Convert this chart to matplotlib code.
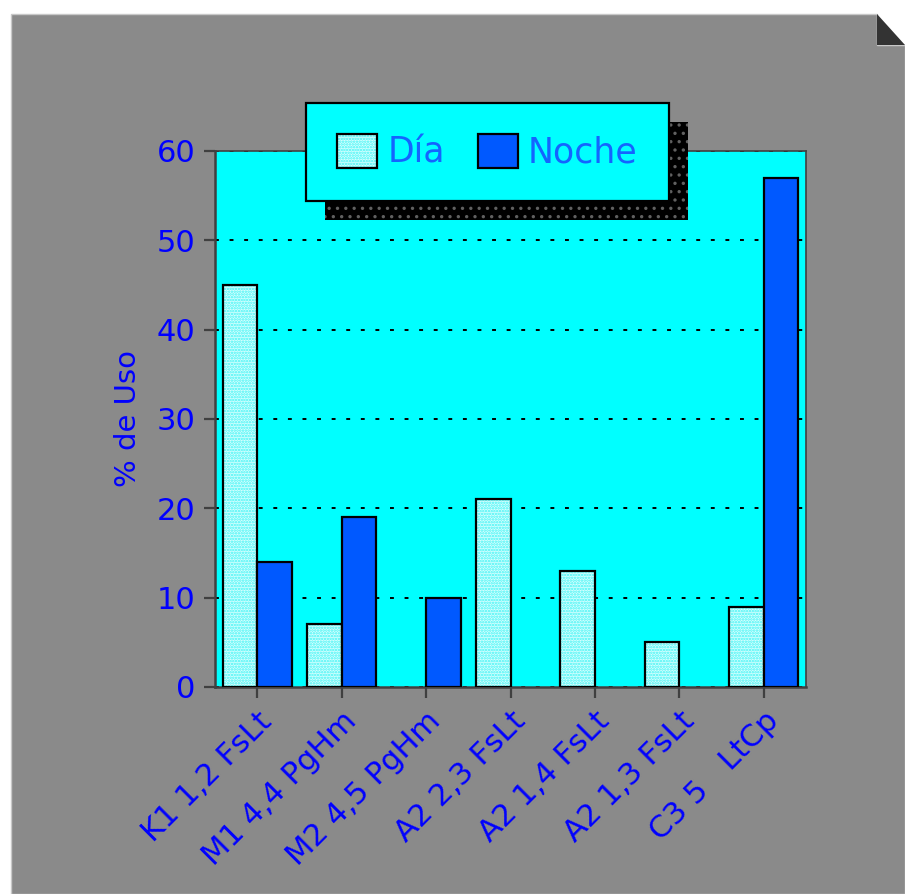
import matplotlib
matplotlib.use("Agg")
import matplotlib.pyplot as plt
import numpy as np
from matplotlib.patches import Polygon, Rectangle

categories = ["K1 1,2 FsLt", "M1 4,4 PgHm", "M2 4,5 PgHm", "A2 2,3 FsLt",
              "A2 1,4 FsLt", "A2 1,3 FsLt", "C3 5   LtCp"]
dia = [45, 7, 0, 21, 13, 5, 9]
noche = [14, 19, 10, 0, 0, 0, 57]
yticks = [0, 10, 20, 30, 40, 50, 60]
series_names = ["Día", "Noche"]
ylabel = "% de Uso"

W, H = 905, 894
DPI = 100
plt.rcParams['font.family'] = ['DejaVu Sans']
plt.rcParams['hatch.linewidth'] = 1.2
fig = plt.figure(figsize=(W / DPI, H / DPI), dpi=DPI, facecolor='white')

def px(x, y):
    return (x / W, 1 - y / H)

GRAY = '#8a8a8a'
panel = Polygon([px(11, 14), px(877, 14), px(877, 45), px(905, 45), px(905, 894), px(11, 894)],
                closed=True, transform=fig.transFigure, facecolor=GRAY,
                edgecolor='#c8c8c8', linewidth=1.0, zorder=-3)
fig.patches.append(panel)
corner = Polygon([px(877, 14), px(877, 45), px(905, 45)], closed=True,
                 transform=fig.transFigure, facecolor='#333333', edgecolor='none', zorder=-2)
fig.patches.append(corner)

L, R, T, B = 215, 806, 151, 687
ax = fig.add_axes([L / W, 1 - B / H, (R - L) / W, (B - T) / H])
ax.set_zorder(1)
ax.set_facecolor('#00ffff')

x = np.arange(len(categories))
w = 0.41
BLUE = '#0059ff'
dia_arr = np.array(dia, dtype=float)
noche_arr = np.array(noche, dtype=float)
bh = ax.bar(x - w / 2, dia_arr, width=w, facecolor='#d6ffff', edgecolor='#40f4f4',
            hatch='......', linewidth=0, zorder=2)
be = ax.bar(x - w / 2, dia_arr, width=w, fill=False, edgecolor='black', linewidth=1.6, zorder=3)
bn = ax.bar(x + w / 2, noche_arr, width=w, facecolor=BLUE, edgecolor='black', linewidth=1.6, zorder=3)
for rects, vals in ((be, dia_arr), (bn, noche_arr)):
    for r, v in zip(rects, vals):
        if v == 0:
            r.set_visible(False)

ax.set_xlim(-0.5, len(categories) - 0.5)
ax.set_ylim(0, 60)
ax.set_yticks(yticks)
ax.set_xticks(x)
ax.set_xticklabels(categories, rotation=45, ha='right', va='top', rotation_mode='anchor')

ax.yaxis.grid(True, color='black', linestyle=(0, (2.0, 5.5)), linewidth=1.4)
ax.set_axisbelow(True)

for s in ['left', 'bottom']:
    ax.spines[s].set_color('#404040')
    ax.spines[s].set_linewidth(1.8)
for s in ['top', 'right']:
    ax.spines[s].set_color('#404040')
    ax.spines[s].set_linewidth(1.2)

ax.tick_params(axis='both', direction='out', length=8, width=1.6, color='#404040',
               labelcolor='#0000ff')
ax.tick_params(axis='y', labelsize=22, pad=6)
ax.tick_params(axis='x', labelsize=22, pad=6)

ax.set_ylabel(ylabel, color='#0000ff', fontsize=21, va='center', ha='center')
ax.yaxis.set_label_coords((128 - L) / (R - L), 0.5)

leg = fig.legend([(bh, be), bn], series_names, loc='center',
                 bbox_to_anchor=px(487.5, 152), ncol=2, fontsize=25,
                 handlelength=1.15, handleheight=1.1, handletextpad=0.29,
                 columnspacing=0.95, borderpad=0.9, fancybox=False,
                 framealpha=1, facecolor='#00ffff', edgecolor='black',
                 labelcolor='#1464ff')
leg.get_frame().set_linewidth(1.6)
leg.set_zorder(6)

fig.canvas.draw()
bb = leg.get_window_extent()
sh = Rectangle((bb.x0 + 19, bb.y0 - 19), bb.width, bb.height, transform=None,
               facecolor='black', edgecolor='#606060', hatch='..', linewidth=0, zorder=5)
fig.patches.append(sh)

fig.savefig('out.png', dpi=DPI, facecolor='white')
